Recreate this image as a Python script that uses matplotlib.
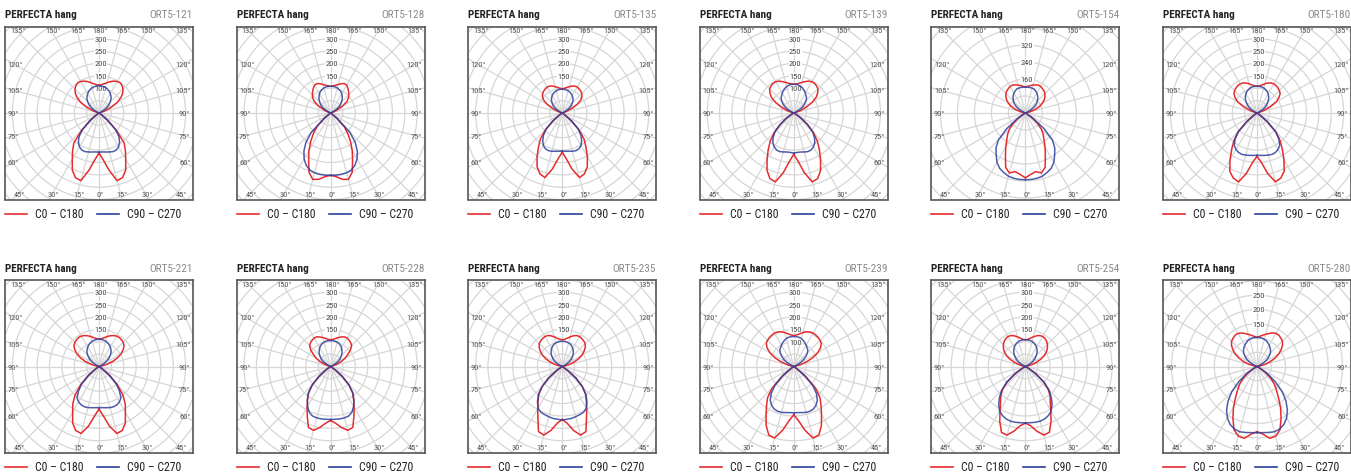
import numpy as np
import matplotlib
matplotlib.use("Agg")
import matplotlib.pyplot as plt
from matplotlib import font_manager
from matplotlib.lines import Line2D
from matplotlib.patches import Circle

# ---------------------------------------------------------------------------
# Photometric data (cd/klm), gamma 0..180 deg in 5 deg steps (0 = nadir)
# ---------------------------------------------------------------------------
GAMMA = np.arange(0, 181, 5)

RED_121 = [162, 189, 235, 283, 278, 255, 216, 186, 158, 100, 48, 12, 0, 0, 0, 0, 0, 0, 0, 0, 0,
           5, 25, 55, 85, 108, 125, 137, 145, 149, 147, 142, 135, 127, 120, 115, 113]
BLUE_121 = [158, 158, 160, 163, 166, 165, 158, 145, 126, 95, 45, 10, 0, 0, 0, 0, 0, 0, 0, 0, 0,
            0, 0, 6, 22, 38, 52, 65, 76, 84, 91, 97, 102, 106, 108, 110, 110]

RED_128 = [252, 258, 272, 278, 255, 210, 175, 140, 108, 78, 35, 6, 0, 0, 0, 0, 0, 0, 0, 0, 0,
           0, 10, 30, 55, 80, 94, 104, 113, 122, 130, 131, 126, 119, 114, 110, 108]
BLUE_128 = [252, 252, 252, 250, 245, 233, 214, 188, 155, 110, 35, 5, 0, 0, 0, 0, 0, 0, 0, 0, 0,
            0, 0, 5, 20, 40, 52, 62, 73, 82, 90, 97, 101, 105, 107, 108, 108]

RED_135 = [158, 185, 230, 270, 262, 240, 203, 167, 137, 95, 48, 12, 0, 0, 0, 0, 0, 0, 0, 0, 0,
           0, 15, 42, 70, 92, 104, 112, 116, 119, 121, 120, 116, 110, 105, 100, 98]
BLUE_135 = [154, 155, 157, 160, 162, 160, 152, 137, 118, 92, 48, 10, 0, 0, 0, 0, 0, 0, 0, 0, 0,
            0, 0, 5, 20, 36, 48, 58, 68, 75, 81, 86, 90, 93, 95, 96, 96]

RED_139 = [167, 195, 245, 288, 282, 256, 216, 180, 148, 112, 72, 35, 10, 0, 0, 0, 0, 0, 0, 0, 0,
           8, 28, 55, 85, 110, 126, 138, 143, 146, 146, 142, 135, 128, 122, 118, 116]
BLUE_139 = [162, 160, 160, 163, 166, 165, 158, 148, 130, 108, 72, 35, 10, 0, 0, 0, 0, 0, 0, 0, 0,
            0, 0, 8, 25, 43, 57, 70, 80, 86, 93, 100, 106, 111, 114, 116, 116]

RED_154 = [305, 290, 280, 292, 272, 222, 185, 152, 130, 105, 75, 40, 10, 0, 0, 0, 0, 0, 0, 0, 5,
           25, 52, 75, 92, 108, 120, 130, 136, 140, 144, 145, 141, 136, 131, 126, 122]
BLUE_154 = [314, 314, 312, 308, 298, 287, 268, 240, 215, 180, 115, 40, 5, 0, 0, 0, 0, 0, 0, 0, 0,
            0, 0, 10, 30, 50, 68, 80, 91, 100, 108, 114, 120, 121, 122, 122, 122]

RED_180 = [175, 200, 248, 288, 280, 260, 218, 178, 145, 108, 55, 15, 0, 0, 0, 0, 0, 0, 0, 0, 0,
           8, 28, 60, 90, 108, 122, 128, 132, 135, 136, 134, 129, 122, 115, 110, 108]
BLUE_180 = [171, 172, 174, 176, 178, 176, 170, 160, 138, 105, 55, 15, 0, 0, 0, 0, 0, 0, 0, 0, 0,
            0, 0, 6, 22, 38, 50, 62, 73, 82, 90, 96, 101, 105, 107, 108, 108]

RED_221 = [172, 200, 245, 280, 275, 252, 213, 185, 150, 105, 58, 15, 0, 0, 0, 0, 0, 0, 0, 0, 8,
           30, 58, 82, 103, 120, 132, 138, 141, 143, 142, 138, 132, 125, 118, 113, 111]
BLUE_221 = [166, 167, 169, 172, 173, 171, 165, 155, 128, 98, 55, 15, 0, 0, 0, 0, 0, 0, 0, 0, 0,
            0, 0, 6, 22, 38, 52, 65, 76, 84, 91, 97, 102, 106, 108, 110, 110]

RED_228 = [218, 230, 250, 267, 262, 223, 190, 162, 138, 104, 60, 20, 0, 0, 0, 0, 0, 0, 0, 0, 0,
           8, 25, 48, 68, 85, 105, 120, 126, 130, 133, 132, 127, 121, 115, 110, 108]
BLUE_228 = [214, 214, 215, 215, 213, 204, 186, 164, 140, 104, 60, 20, 0, 0, 0, 0, 0, 0, 0, 0, 0,
            0, 0, 6, 22, 38, 51, 62, 72, 80, 88, 94, 99, 102, 104, 105, 105]

RED_235 = [214, 230, 262, 287, 280, 232, 198, 170, 148, 115, 72, 25, 0, 0, 0, 0, 0, 0, 0, 0, 5,
           25, 50, 72, 93, 108, 122, 131, 135, 138, 140, 138, 132, 124, 116, 110, 108]
BLUE_235 = [216, 214, 213, 210, 207, 204, 195, 174, 150, 115, 72, 25, 0, 0, 0, 0, 0, 0, 0, 0, 0,
            0, 0, 6, 21, 36, 49, 60, 70, 78, 85, 91, 96, 99, 101, 102, 102]

RED_239 = [195, 220, 262, 299, 295, 264, 224, 192, 165, 125, 62, 15, 0, 0, 0, 0, 0, 0, 0, 0, 5,
           25, 55, 85, 112, 132, 145, 150, 153, 155, 156, 154, 149, 142, 134, 128, 125]
BLUE_239 = [187, 187, 189, 192, 192, 189, 180, 166, 142, 108, 60, 15, 0, 0, 0, 0, 0, 0, 0, 0, 0,
            0, 0, 10, 30, 48, 64, 78, 88, 93, 100, 106, 112, 117, 120, 121, 121]

RED_254 = [229, 240, 265, 287, 283, 245, 205, 175, 155, 130, 95, 50, 15, 0, 0, 0, 0, 0, 0, 0, 5,
           20, 45, 68, 88, 104, 116, 126, 133, 138, 140, 138, 132, 124, 116, 110, 108]
BLUE_254 = [228, 228, 229, 229, 226, 219, 208, 188, 163, 135, 98, 50, 15, 0, 0, 0, 0, 0, 0, 0, 0,
            0, 0, 6, 22, 38, 50, 62, 73, 82, 90, 96, 101, 105, 107, 108, 108]

RED_280 = [229, 238, 256, 253, 236, 200, 165, 130, 105, 85, 62, 35, 12, 0, 0, 0, 0, 0, 0, 0, 8,
           28, 50, 70, 88, 104, 117, 126, 130, 134, 134, 130, 123, 117, 111, 106, 103]
BLUE_280 = [232, 233, 235, 237, 233, 224, 208, 186, 158, 125, 85, 47, 15, 0, 0, 0, 0, 0, 0, 0, 0,
            0, 2, 12, 28, 43, 55, 66, 74, 80, 86, 91, 96, 99, 101, 102, 102]

CODES = ["ORT5-121", "ORT5-128", "ORT5-135", "ORT5-139", "ORT5-154", "ORT5-180",
         "ORT5-221", "ORT5-228", "ORT5-235", "ORT5-239", "ORT5-254", "ORT5-280"]
RED = [RED_121, RED_128, RED_135, RED_139, RED_154, RED_180,
       RED_221, RED_228, RED_235, RED_239, RED_254, RED_280]
BLUE = [BLUE_121, BLUE_128, BLUE_135, BLUE_139, BLUE_154, BLUE_180,
        BLUE_221, BLUE_228, BLUE_235, BLUE_239, BLUE_254, BLUE_280]

# radial tick labels and ring step of each diagram
STD_TICKS = [150, 200, 250, 300]
RING_TICKS = [[100, 150, 200, 250, 300], STD_TICKS, STD_TICKS, [100, 150, 200, 250, 300],
              [160, 240, 320], STD_TICKS,
              STD_TICKS, STD_TICKS, STD_TICKS, [100, 150, 200, 250, 300],
              STD_TICKS, [150, 200, 250]]
RING_STEP = [50, 50, 50, 50, 80, 50, 50, 50, 50, 50, 50, 50]
# pixels per cd/klm
PX_PER_UNIT = [0.2475, 0.2475, 0.2475, 0.2475, 0.2125, 0.2475,
               0.2475, 0.2475, 0.2475, 0.2475, 0.2475, 0.285]

TITLE = "PERFECTA hang"
LEGEND = ["C0 – C180", "C90 – C270"]
TOP_ANGLES = [135, 150, 165, 180, 165, 150, 135]
BOTTOM_ANGLES = [45, 30, 15, 0, 15, 30, 45]
SIDE_ANGLES = [120, 105, 90, 75, 60]

# ---------------------------------------------------------------------------
W, H, DPI = 1351, 477, 100
RED_C = "#e52b2d"
BLUE_C = "#2e3f9b"
GRID_C = "#d6d6d6"

names = {f.name for f in font_manager.fontManager.ttflist}
FONT = "DejaVu Sans"
STRETCH = "condensed"
for cand in ["Liberation Sans Narrow", "Roboto Condensed"]:
    if cand in names:
        FONT = cand
        STRETCH = "normal"
        break
plt.rcParams["font.family"] = [FONT, "DejaVu Sans"]
plt.rcParams["font.stretch"] = STRETCH

fig = plt.figure(figsize=(W / DPI, H / DPI), dpi=DPI)
fig.patch.set_facecolor("white")


def fx(px):
    return px / W


def fy(py):
    return 1 - py / H


BOX_W, BOX_H = 188.0, 173.0
HW, HH = BOX_W / 2, BOX_H / 2
COL_X = [5 + 231.6 * i for i in range(6)]
ROW_TOP = [27.5, 281.0]
ROW_TITLE = [14.5, 268.5]
ROW_LEGEND = [215.0, 468.0]


def outline(vals):
    g = np.radians(GAMMA)
    r = np.asarray(vals, dtype=float)
    xr = r * np.sin(g)
    yr = -r * np.cos(g)
    x = np.concatenate([xr, -xr[::-1]])
    y = np.concatenate([yr, yr[::-1]])
    return x, y


for idx, code in enumerate(CODES):
    row, col = divmod(idx, 6)
    left = COL_X[col]
    top = ROW_TOP[row]
    s = PX_PER_UNIT[idx]
    ax = fig.add_axes([fx(left), fy(top + BOX_H), BOX_W / W, BOX_H / H])
    ax.set_xlim(-HW / s, HW / s)
    ax.set_ylim(-HH / s, HH / s)
    ax.set_xticks([])
    ax.set_yticks([])
    for sp in ax.spines.values():
        sp.set_color("#555555")
        sp.set_linewidth(1.2)

    # concentric rings
    step = RING_STEP[idx]
    rmax = np.hypot(HW, HH) / s
    k = 1
    while k * step < rmax + step:
        ax.add_patch(Circle((0, 0), k * step, fill=False, ec=GRID_C, lw=0.9, zorder=1))
        k += 1
    # radial spokes every 15 deg
    for a in range(0, 360, 15):
        t = np.radians(a)
        ax.plot([0, rmax * 1.2 * np.sin(t)], [0, -rmax * 1.2 * np.cos(t)],
                color=GRID_C, lw=0.9, zorder=1)

    # angle labels on the frame
    lab_kw = dict(fontsize=6.0, color="#555555", zorder=3, clip_on=False)
    d_top = HH - 3.8
    for j, a in enumerate(TOP_ANGLES):
        sign = -1 if j < 3 else 1
        xp = sign * d_top * np.tan(np.radians(180 - a)) + 1.5
        xp = max(min(xp, HW - 8), -HW + 8)
        ax.text(xp / s, d_top / s, f"{a}°", ha="center", va="center", **lab_kw)
    d_bot = HH - 5.5
    for j, a in enumerate(BOTTOM_ANGLES):
        sign = -1 if j < 3 else 1
        xp = sign * d_bot * np.tan(np.radians(a)) + 1.5
        xp = max(min(xp, HW - 8), -HW + 8)
        ax.text(xp / s, -d_bot / s, f"{a}°", ha="center", va="center", **lab_kw)
    d_side = HW - 9
    for a in SIDE_ANGLES:
        yp = 0.0 if a == 90 else -d_side / np.tan(np.radians(a))
        ax.text((-HW + 2.5) / s, yp / s, f"{a}°", ha="left", va="center", **lab_kw)
        ax.text((HW - 2.5) / s, yp / s, f"{a}°", ha="right", va="center", **lab_kw)

    # radial value labels
    for v in RING_TICKS[idx]:
        ax.text(1.5 / s, v, f"{v}", ha="center", va="center", fontsize=6.0,
                color="#444444", zorder=3,
                bbox=dict(boxstyle="square,pad=0.05", fc="white", ec="none"))

    # intensity curves
    xr, yr = outline(RED[idx])
    ax.plot(xr, yr, color=RED_C, lw=1.1, zorder=4, solid_joinstyle="round")
    xb, yb = outline(BLUE[idx])
    ax.plot(xb, yb, color=BLUE_C, lw=1.1, zorder=5, alpha=0.85, solid_joinstyle="round")

    # heading
    fig.text(fx(left), fy(ROW_TITLE[row]), TITLE, ha="left", va="center",
             fontsize=8, fontweight="bold", color="#222222")
    fig.text(fx(left + BOX_W), fy(ROW_TITLE[row]), code, ha="right", va="center",
             fontsize=8, color="#8a8a8a")

    # legend
    ly = fy(ROW_LEGEND[row])
    fig.add_artist(Line2D([fx(left), fx(left + 22)], [ly, ly], color=RED_C, lw=1.2,
                          transform=fig.transFigure))
    fig.text(fx(left + 30), ly, LEGEND[0], ha="left", va="center", fontsize=8.5,
             color="#222222")
    fig.add_artist(Line2D([fx(left + 92), fx(left + 114)], [ly, ly], color=BLUE_C, lw=1.2,
                          transform=fig.transFigure))
    fig.text(fx(left + 122), ly, LEGEND[1], ha="left", va="center", fontsize=8.5,
             color="#222222")

fig.savefig("out.png", dpi=DPI, facecolor="white")
